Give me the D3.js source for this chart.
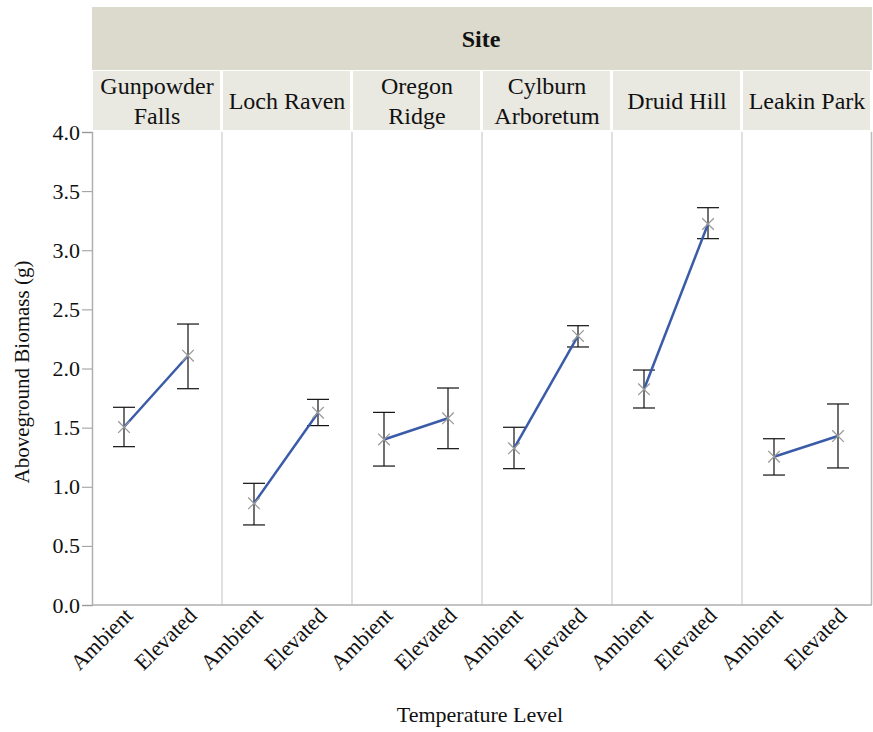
<!DOCTYPE html>
<html>
<head>
<meta charset="utf-8">
<script src="https://cdn.jsdelivr.net/npm/d3@7"></script>
<style>
  body { margin: 0; background: white; }
  text { font-family: "Liberation Serif", "Times New Roman", serif; fill: #111; }
</style>
</head>
<body>
<div id="chart"></div>
<script>
// data
var sites = ["Gunpowder Falls", "Loch Raven", "Oregon Ridge", "Cylburn Arboretum", "Druid Hill", "Leakin Park"]
var siteLabels = [["Gunpowder", "Falls"], ["Loch Raven"], ["Oregon", "Ridge"], ["Cylburn", "Arboretum"], ["Druid Hill"], ["Leakin Park"]]
var levels = ["Ambient", "Elevated"]
var ambientMean = [1.505, 0.86, 1.40, 1.325, 1.824, 1.254]
var ambientLow = [1.339, 0.677, 1.175, 1.153, 1.666, 1.099]
var ambientHigh = [1.672, 1.029, 1.629, 1.503, 1.987, 1.406]
var elevatedMean = [2.108, 1.626, 1.579, 2.275, 3.222, 1.429]
var elevatedLow = [1.829, 1.517, 1.322, 2.182, 3.098, 1.159]
var elevatedHigh = [2.376, 1.739, 1.835, 2.362, 3.360, 1.700]
var yTicks = [0, 0.5, 1, 1.5, 2, 2.5, 3, 3.5, 4]

var width = 873, height = 732
var margin = {left: 92, right: 1, top: 132, bottom: 127}

var svg = d3.select("#chart")
  .append("svg")
  .attr("width", width)
  .attr("height", height)

// facet scale
var xSite = d3.scaleBand()
  .domain(sites)
  .range([margin.left, width - margin.right])

var xLevel = d3.scalePoint()
  .domain(levels)
  .range([0, xSite.bandwidth() - 2])
  .padding(0.5)

var yScale = d3.scaleLinear()
  .domain([0, 4])
  .range([height - margin.bottom, margin.top])

// header band
svg.append("rect")
  .attr("x", margin.left)
  .attr("y", 7)
  .attr("width", width - margin.right - margin.left)
  .attr("height", 63)
  .attr("fill", "#dcdacc")

svg.append("text")
  .attr("x", 481)
  .attr("y", 47)
  .attr("text-anchor", "middle")
  .style("font-size", "24px")
  .style("font-weight", "bold")
  .text("Site")

// site label boxes
var labelG = svg.append("g").attr("class", "site-labels")
sites.forEach(function(s, i) {
  labelG.append("rect")
    .attr("x", xSite(s) + 1)
    .attr("y", 71)
    .attr("width", xSite.bandwidth() - 3)
    .attr("height", 59)
    .attr("fill", "#e9e8e1")
  var lines = siteLabels[i]
  var cx = xSite(s) + xSite.bandwidth() / 2
  lines.forEach(function(l, j) {
    var y0 = lines.length == 1 ? 109 : 94 + j * 30
    labelG.append("text")
      .attr("x", cx)
      .attr("y", y0)
      .attr("text-anchor", "middle")
      .style("font-size", "24px")
      .text(l)
  })
})

// panel separators
svg.append("g")
  .selectAll("line")
  .data(sites.slice(1))
  .enter()
  .append("line")
  .attr("x1", d => xSite(d))
  .attr("x2", d => xSite(d))
  .attr("y1", margin.top)
  .attr("y2", height - margin.bottom)
  .attr("stroke", "#d6d6d6")
  .attr("stroke-width", 1.5)

svg.append("line")
  .attr("x1", width - margin.right - 0.5)
  .attr("x2", width - margin.right - 0.5)
  .attr("y1", margin.top)
  .attr("y2", height - margin.bottom)
  .attr("stroke", "#bbbbbb")
  .attr("stroke-width", 1.5)

// bottom line
svg.append("line")
  .attr("x1", margin.left)
  .attr("x2", width - margin.right)
  .attr("y1", height - margin.bottom)
  .attr("y2", height - margin.bottom)
  .attr("stroke", "#b0b0b0")
  .attr("stroke-width", 1.5)

// Y axis
var yAxis = d3.axisLeft(yScale)
  .tickValues(yTicks)
  .tickFormat(d3.format(".1f"))
  .tickSize(10)
  .tickPadding(2)

var yAxisG = svg.append("g")
  .attr("transform", `translate(${margin.left},0)`)
  .call(yAxis)
yAxisG.select(".domain").attr("stroke", "#b0b0b0").attr("stroke-width", 1.5)
yAxisG.selectAll(".tick line").attr("stroke", "#999")
yAxisG.selectAll("text")
  .style("font-size", "22px")
  .attr("fill", "#111")

// X tick labels per panel
var xLabG = svg.append("g").attr("class", "x-labels")
sites.forEach(function(s) {
  levels.forEach(function(l) {
    var x = xSite(s) + xLevel(l)
    xLabG.append("text")
      .attr("transform", `translate(${x + 10},${height - margin.bottom + 12}) rotate(-45)`)
      .attr("text-anchor", "end")
      .style("font-size", "22px")
      .text(l)
  })
})

// axis titles
svg.append("text")
  .attr("transform", `translate(29,372) rotate(-90)`)
  .attr("text-anchor", "middle")
  .style("font-size", "21px")
  .text("Aboveground Biomass (g)")

svg.append("text")
  .attr("x", 480)
  .attr("y", 722)
  .attr("text-anchor", "middle")
  .style("font-size", "22px")
  .text("Temperature Level")

// build rows
var rows = sites.map(function(s, i) {
  return [
    {site: s, level: "Ambient", mean: ambientMean[i], lo: ambientLow[i], hi: ambientHigh[i]},
    {site: s, level: "Elevated", mean: elevatedMean[i], lo: elevatedLow[i], hi: elevatedHigh[i]}
  ]
})
var flat = rows.flat()
var px = d => xSite(d.site) + xLevel(d.level)

// error bars
var errG = svg.append("g").attr("class", "errors")
errG.selectAll(".stem")
  .data(flat)
  .enter()
  .append("line")
  .attr("x1", px).attr("x2", px)
  .attr("y1", d => yScale(d.lo))
  .attr("y2", d => yScale(d.hi))
  .attr("stroke", "#111")
  .attr("stroke-width", 1.2)

;["lo", "hi"].forEach(function(k) {
  errG.selectAll(".cap-" + k)
    .data(flat)
    .enter()
    .append("line")
    .attr("x1", d => px(d) - 11)
    .attr("x2", d => px(d) + 11)
    .attr("y1", d => yScale(d[k]))
    .attr("y2", d => yScale(d[k]))
    .attr("stroke", "#111")
    .attr("stroke-width", 1.2)
})

// lines
var line = d3.line()
  .x(px)
  .y(d => yScale(d.mean))

svg.append("g")
  .selectAll("path")
  .data(rows)
  .enter()
  .append("path")
  .attr("d", line)
  .attr("fill", "none")
  .attr("stroke", "#3a5ba8")
  .attr("stroke-width", 2.5)

// x markers
svg.append("g")
  .selectAll("path")
  .data(flat)
  .enter()
  .append("path")
  .attr("transform", d => `translate(${px(d)},${yScale(d.mean)})`)
  .attr("d", d3.symbol(d3.symbolX, 90))
  .attr("fill", "none")
  .attr("stroke", "#9a9a9a")
  .attr("stroke-width", 1.3)
</script>
</body>
</html>
